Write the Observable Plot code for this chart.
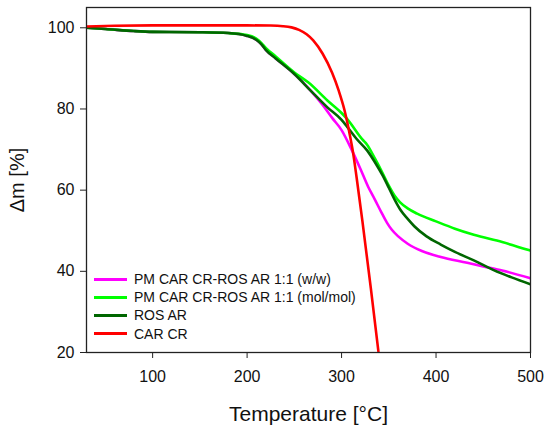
<!DOCTYPE html>
<html>
<head>
<meta charset="utf-8">
<script src="https://cdn.jsdelivr.net/npm/d3@7"></script>
<script src="https://cdn.jsdelivr.net/npm/@observablehq/plot@0.6"></script>
<style>
  html, body { margin: 0; padding: 0; background: #fff; }
  #wrap { position: relative; width: 550px; height: 431px; font-family: "Liberation Sans", Arial, sans-serif; }
  #legend { position: absolute; left: 94px; top: 270px; font-size: 14px; color: #111; }
  .row { display: flex; align-items: center; height: 18.2px; }
  .sw { width: 33px; height: 3px; margin-right: 7px; }
</style>
</head>
<body>
<div id="wrap"></div>
<script>
const seriesNames = [
  "PM CAR CR-ROS AR 1:1 (w/w)",
  "PM CAR CR-ROS AR 1:1 (mol/mol)",
  "ROS AR",
  "CAR CR"
];
const seriesColors = ["#ff00ff", "#00ff00", "#006600", "#ff0000"];

const pmWwT = [30, 50, 80, 100, 150, 180, 200, 210, 215, 220, 230, 250, 267, 280, 290, 300, 311, 320, 328, 335, 342, 348, 353, 360, 370, 385, 405, 433, 450, 470, 500];
const pmWwM = [100.0, 99.7, 99.2, 99.0, 98.9, 98.7, 98.0, 97.0, 96.0, 94.5, 92.5, 88.6, 84.6, 81.0, 77.8, 74.8, 69.8, 65.2, 60.9, 57.8, 54.6, 52.0, 50.3, 48.6, 46.8, 45.0, 43.5, 42.1, 41.2, 40.2, 38.3];

const pmMolT = [30, 50, 100, 150, 180, 200, 210, 215, 220, 230, 250, 265, 285, 300, 306, 322, 327, 336, 343, 350, 356, 362, 370, 380, 400, 420, 440, 470, 500];
const pmMolM = [100.0, 99.7, 99.0, 98.9, 98.7, 98.2, 97.3, 96.3, 95.0, 93.0, 89.0, 86.5, 82.1, 79.0, 77.5, 72.5, 71.2, 67.5, 64.4, 61.1, 58.7, 57.0, 55.5, 54.2, 52.3, 50.5, 49.0, 47.2, 45.1];

const rosT = [30, 50, 80, 100, 150, 180, 200, 210, 215, 220, 230, 250, 267, 285, 300, 306, 316, 327, 335, 343, 350, 357, 363, 370, 377, 390, 405, 420, 440, 461, 480, 500];
const rosM = [100.0, 99.7, 99.2, 99.0, 98.9, 98.7, 98.0, 97.0, 96.0, 94.5, 92.5, 88.6, 84.6, 80.4, 77.3, 75.6, 72.6, 69.8, 67.0, 63.8, 60.6, 57.3, 54.9, 52.9, 51.1, 48.6, 46.6, 44.8, 42.7, 40.3, 38.5, 36.8];

const carT = [30, 60, 100, 150, 200, 225, 238, 247, 255, 263, 270, 280, 290, 297, 303, 308, 312, 316, 322, 331, 339];
const carM = [100.3, 100.5, 100.6, 100.6, 100.6, 100.55, 100.4, 100.1, 99.5, 98.4, 96.9, 93.6, 88.9, 84.5, 79.8, 74.5, 69.5, 63.0, 52.5, 35.8, 20.3];

const xTicks = [100, 200, 300, 400, 500];
const yTicks = [20, 40, 60, 80, 100];

const toRows = (T, M, s) => T.map((t, i) => ({t, m: M[i], s}));
const allSeries = [
  toRows(pmWwT, pmWwM, seriesNames[0]),
  toRows(pmMolT, pmMolM, seriesNames[1]),
  toRows(rosT, rosM, seriesNames[2]),
  toRows(carT, carM, seriesNames[3])
];

const chart = Plot.plot({
  width: 550,
  height: 431,
  marginLeft: 86,
  marginRight: 20,
  marginTop: 7,
  marginBottom: 79,
  style: {fontFamily: "Liberation Sans, Arial, sans-serif", background: "white"},
  x: {domain: [30, 500], ticks: xTicks, label: null},
  y: {domain: [20, 105], ticks: yTicks, label: null},
  marks: [
    ...allSeries.map((rows, i) => Plot.line(rows, {
      x: "t", y: "m", stroke: seriesColors[i], strokeWidth: 2.6, curve: "monotone-x", clip: true
    })),
    Plot.frame({stroke: "#222", strokeWidth: 1.3}),
    Plot.axisX({ticks: xTicks, tickSize: 6, tickPadding: 12, fontSize: 16, stroke: "#222", label: null, color: "#111"}),
    Plot.axisY({ticks: yTicks, tickSize: 6, tickPadding: 6, fontSize: 16, stroke: "#222", label: null, color: "#111"}),
    Plot.text(["Temperature [°C]"], {frameAnchor: "bottom", dy: 68, lineAnchor: "bottom", fontSize: 21, fill: "#111"}),
    Plot.text(["Δm [%]"], {frameAnchor: "left", dx: -69, rotate: -90, textAnchor: "middle", lineAnchor: "middle", fontSize: 20, fill: "#111"})
  ]
});

const wrap = document.getElementById("wrap");
wrap.appendChild(chart);

const legend = document.createElement("div");
legend.id = "legend";
seriesNames.forEach((name, i) => {
  const row = document.createElement("div");
  row.className = "row";
  const sw = document.createElement("div");
  sw.className = "sw";
  sw.style.background = seriesColors[i];
  const label = document.createElement("span");
  label.textContent = name;
  row.appendChild(sw);
  row.appendChild(label);
  legend.appendChild(row);
});
wrap.appendChild(legend);
</script>
</body>
</html>
